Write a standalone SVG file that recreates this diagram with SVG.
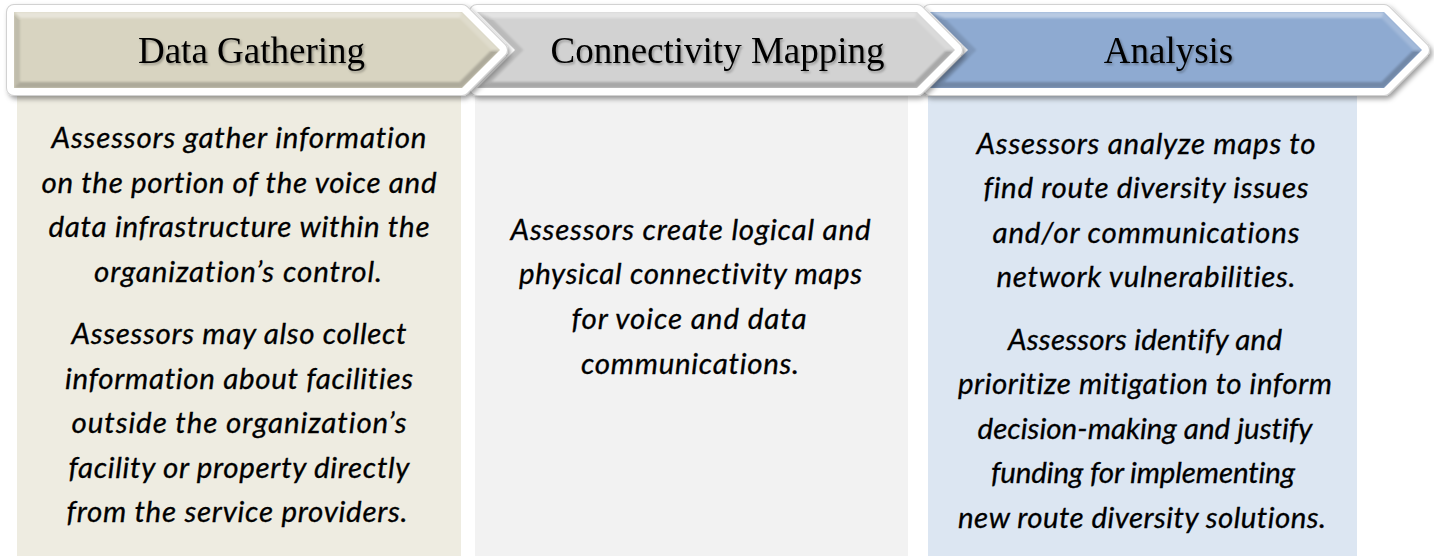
<svg xmlns="http://www.w3.org/2000/svg" width="1434" height="556" viewBox="0 0 1434 556">
  <style>
    .hdr { font-family: "Liberation Serif", "Times New Roman", serif; font-size: 37px; fill: #000; text-anchor: middle; }
    .body { font-family: Lato, "Open Sans", sans-serif; font-style: italic; font-size: 29.5px; fill: #000; stroke: #000; stroke-width: 0.3; text-anchor: middle; font-variant-ligatures: none; font-feature-settings: "liga" 0, "clig" 0; }
    .edge { fill: #d2d2d2; stroke: #d2d2d2; stroke-width: 16; stroke-linejoin: round; }
    .rim { fill: #fff; stroke: #fff; stroke-width: 14; stroke-linejoin: round; }
    .hi { fill: #fff; fill-opacity: 0.38; }
    .hi2 { fill: #fff; fill-opacity: 0.18; }
    .lo { fill: #000; fill-opacity: 0.2; }
    .lo2 { fill: #000; fill-opacity: 0.11; }
  </style>
  <defs>
    <filter id="dropShadow" x="-5%" y="-20%" width="115%" height="150%">
      <feDropShadow dx="2.5" dy="3" stdDeviation="2.6" flood-color="#000" flood-opacity="0.38"/>
    </filter>
    <filter id="textShadow" x="-10%" y="-30%" width="120%" height="160%">
      <feDropShadow dx="1.5" dy="1.8" stdDeviation="1" flood-color="#000" flood-opacity="0.3"/>
    </filter>
    <filter id="soften" x="-5%" y="-20%" width="110%" height="140%">
      <feGaussianBlur stdDeviation="1"/>
    </filter>
    <clipPath id="clipC1"><polygon points="14,12 462,12 500,50 462,88 14,88"/></clipPath>
    <clipPath id="clipC2"><polygon points="477,12 917,12 955,50 917,88 477,88 515,50"/></clipPath>
    <clipPath id="clipC3"><polygon points="930,12 1384,12 1422,50 1384,88 930,88 968,50"/></clipPath>
  </defs>

  <rect width="1434" height="556" fill="#fff"/>

  <!-- Stage 3: Analysis (drawn first so earlier chevrons overlap it) -->
  <g id="stage-analysis">
    <rect x="928" y="96" width="429" height="460" fill="#dce6f2"/>
    <g filter="url(#dropShadow)">
      <polygon class="edge" points="930,12 1384,12 1422,50 1384,88 930,88 968,50"/>
      <polygon class="rim" points="930,12 1384,12 1422,50 1384,88 930,88 968,50"/>
      <polygon points="930,12 1384,12 1422,50 1384,88 930,88 968,50" fill="#8eaad1"/>
      <g clip-path="url(#clipC3)">
        <g filter="url(#soften)">
          <polygon class="hi" points="930,12 1384,12 1381.5,18 944.5,18"/>
          <polygon class="hi2" points="1384,12 1422,50 1413.5,50 1381.5,18"/>
          <polygon class="lo" points="1422,50 1384,88 1381.5,82 1413.5,50"/>
          <polygon class="lo" points="1384,88 930,88 944.5,82 1381.5,82"/>
          <polygon class="lo2" points="930,88 968,50 976.5,50 944.5,82"/>
          <polygon class="lo2" points="968,50 930,12 944.5,18 976.5,50"/>
        </g>
      </g>
    </g>
    <text class="hdr" x="1168.5" y="63" filter="url(#textShadow)">Analysis</text>
    <text class="body" x="1146" y="153.5" textLength="339" lengthAdjust="spacing">Assessors analyze maps to</text>
    <text class="body" x="1146" y="198" textLength="325" lengthAdjust="spacing">find route diversity issues</text>
    <text class="body" x="1146" y="242.5" textLength="307" lengthAdjust="spacing">and/or communications</text>
    <text class="body" x="1146" y="287" textLength="299" lengthAdjust="spacing">network vulnerabilities.</text>
    <text class="body" x="1145" y="349.5" textLength="274" lengthAdjust="spacing">Assessors identify and</text>
    <text class="body" x="1145" y="394" textLength="374" lengthAdjust="spacing">prioritize mitigation to inform</text>
    <text class="body" x="1145" y="438.5" textLength="335" lengthAdjust="spacing">decision-making and justify</text>
    <text class="body" x="1143" y="483" textLength="304" lengthAdjust="spacing">funding for implementing</text>
    <text class="body" x="1142" y="527.5" textLength="368" lengthAdjust="spacing">new route diversity solutions.</text>
  </g>

  <!-- Stage 2: Connectivity Mapping -->
  <g id="stage-connectivity-mapping">
    <rect x="475" y="96" width="433" height="460" fill="#f2f2f2"/>
    <g filter="url(#dropShadow)">
      <polygon class="edge" points="477,12 917,12 955,50 917,88 477,88 515,50"/>
      <polygon class="rim" points="477,12 917,12 955,50 917,88 477,88 515,50"/>
      <polygon points="477,12 917,12 955,50 917,88 477,88 515,50" fill="#d2d2d2"/>
      <g clip-path="url(#clipC2)">
        <g filter="url(#soften)">
          <polygon class="hi" points="477,12 917,12 914.5,18 491.5,18"/>
          <polygon class="hi2" points="917,12 955,50 946.5,50 914.5,18"/>
          <polygon class="lo" points="955,50 917,88 914.5,82 946.5,50"/>
          <polygon class="lo" points="917,88 477,88 491.5,82 914.5,82"/>
          <polygon class="lo2" points="477,88 515,50 523.5,50 491.5,82"/>
          <polygon class="lo2" points="515,50 477,12 491.5,18 523.5,50"/>
        </g>
      </g>
    </g>
    <text class="hdr" x="717.5" y="63" filter="url(#textShadow)">Connectivity Mapping</text>
    <text class="body" x="690.5" y="239.5" textLength="360" lengthAdjust="spacing">Assessors create logical and</text>
    <text class="body" x="690.5" y="284.2" textLength="343" lengthAdjust="spacing">physical connectivity maps</text>
    <text class="body" x="689" y="329" textLength="235" lengthAdjust="spacing">for voice and data</text>
    <text class="body" x="690" y="373.7" textLength="218" lengthAdjust="spacing">communications.</text>
  </g>

  <!-- Stage 1: Data Gathering (topmost chevron) -->
  <g id="stage-data-gathering">
    <rect x="17" y="96" width="444" height="460" fill="#eeece1"/>
    <g filter="url(#dropShadow)">
      <polygon class="edge" points="14,12 462,12 500,50 462,88 14,88"/>
      <polygon class="rim" points="14,12 462,12 500,50 462,88 14,88"/>
      <polygon points="14,12 462,12 500,50 462,88 14,88" fill="#d8d4c1"/>
      <g clip-path="url(#clipC1)">
        <g filter="url(#soften)">
          <polygon class="hi" points="14,12 462,12 459.5,18 20,18"/>
          <polygon class="hi2" points="462,12 500,50 491.5,50 459.5,18"/>
          <polygon class="lo" points="500,50 462,88 459.5,82 491.5,50"/>
          <polygon class="lo" points="462,88 14,88 20,82 459.5,82"/>
          <polygon class="lo2" points="14,88 14,12 20,18 20,82"/>
        </g>
      </g>
    </g>
    <text class="hdr" x="251.5" y="63" filter="url(#textShadow)">Data Gathering</text>
    <text class="body" x="239" y="148" textLength="375" lengthAdjust="spacing">Assessors gather information</text>
    <text class="body" x="239" y="192.5" textLength="395" lengthAdjust="spacing">on the portion of the voice and</text>
    <text class="body" x="239" y="237" textLength="381" lengthAdjust="spacing">data infrastructure within the</text>
    <text class="body" x="238" y="281.5" textLength="288" lengthAdjust="spacing">organization’s control.</text>
    <text class="body" x="239" y="344" textLength="335" lengthAdjust="spacing">Assessors may also collect</text>
    <text class="body" x="239" y="388.5" textLength="348" lengthAdjust="spacing">information about facilities</text>
    <text class="body" x="239" y="433" textLength="335" lengthAdjust="spacing">outside the organization’s</text>
    <text class="body" x="239" y="477.5" textLength="341" lengthAdjust="spacing">facility or property directly</text>
    <text class="body" x="237" y="522" textLength="341" lengthAdjust="spacing">from the service providers.</text>
  </g>

  <!-- Stages flow left to right through the chevron shapes; no separate connector lines -->
  <g id="connectors"/>
</svg>
